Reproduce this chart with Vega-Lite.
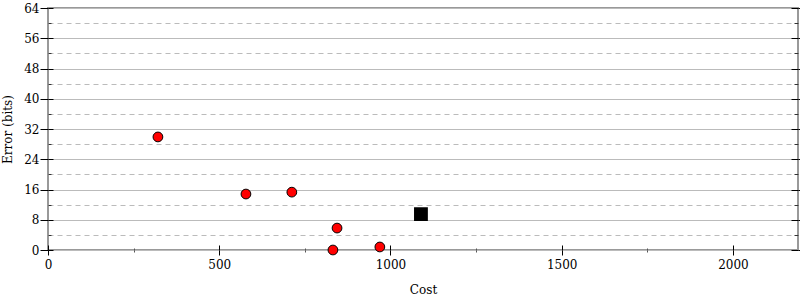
{
  "$schema": "https://vega.github.io/schema/vega-lite/v6.json",
  "width": 750,
  "height": 242,
  "autosize": {"type": "none"},
  "padding": {"left": 48, "top": 8, "right": 2, "bottom": 50},
  "background": "white",
  "config": {
    "font": "DejaVu Serif",
    "view": {"stroke": "#999", "strokeWidth": 2},
    "axis": {"labelFont": "DejaVu Serif", "titleFont": "DejaVu Serif", "labelFontSize": 12, "titleFontSize": 12, "titleFontWeight": "normal", "labelColor": "#000", "titleColor": "#000", "domain": false, "tickColor": "#000", "labelFlush": false, "format": "d"}
  },
  "datasets": {
    "pts": [
      {"cost": 321, "err": 29.9, "kind": "other"},
      {"cost": 578, "err": 14.8, "kind": "other"},
      {"cost": 712, "err": 15.3, "kind": "other"},
      {"cost": 844, "err": 5.8, "kind": "other"},
      {"cost": 832, "err": 0.0, "kind": "other"},
      {"cost": 969, "err": 0.8, "kind": "other"},
      {"cost": 1089, "err": 9.5, "kind": "best"}
    ]
  },
  "data": {"name": "pts"},
  "resolve": {"axis": {"x": "independent", "y": "independent"}},
  "layer": [
    {
      "mark": {"type": "point", "opacity": 0},
      "encoding": {
        "x": {"field": "cost", "type": "quantitative", "scale": {"domain": [0, 2190], "nice": false},
          "axis": {"orient": "bottom", "values": [250, 750, 1250, 1750], "labels": false, "grid": false, "tickSize": 2, "tickColor": "#555", "title": null}},
        "y": {"field": "err", "type": "quantitative", "scale": {"domain": [0, 64], "nice": false},
          "axis": {"orient": "left", "values": [4, 12, 20, 28, 36, 44, 52, 60], "labels": false, "grid": true, "gridDash": [5, 4], "gridColor": "#bbb", "gridOpacity": 1, "tickSize": -3, "tickColor": "#333", "title": null}}
      }
    },
    {
      "mark": {"type": "point", "opacity": 0},
      "encoding": {
        "x": {"field": "cost", "type": "quantitative", "scale": {"domain": [0, 2190], "nice": false},
          "axis": {"orient": "bottom", "values": [250, 750, 1250, 1750], "labels": false, "grid": false, "tickSize": -2, "tickColor": "#555", "title": null}},
        "y": {"field": "err", "type": "quantitative", "scale": {"domain": [0, 64], "nice": false},
          "axis": {"orient": "right", "values": [4, 12, 20, 28, 36, 44, 52, 60], "labels": false, "grid": false, "tickSize": -4, "tickColor": "#333", "title": null}}
      }
    },
    {
      "mark": {"type": "point", "opacity": 0},
      "encoding": {
        "x": {"field": "cost", "type": "quantitative", "scale": {"domain": [0, 2190], "nice": false},
          "axis": {"orient": "bottom", "values": [0, 500, 1000, 1500, 2000], "labels": false, "grid": false, "tickSize": -5, "title": null}},
        "y": {"field": "err", "type": "quantitative", "scale": {"domain": [0, 64], "nice": false},
          "axis": {"orient": "left", "values": [0, 8, 16, 24, 32, 40, 48, 56, 64], "labels": false, "grid": false, "tickSize": -5, "title": null}}
      }
    },
    {
      "mark": {"type": "point", "opacity": 0},
      "encoding": {
        "x": {"field": "cost", "type": "quantitative", "scale": {"domain": [0, 2190], "nice": false},
          "axis": {"orient": "top", "labels": false, "ticks": false, "grid": false, "title": null}},
        "y": {"field": "err", "type": "quantitative", "scale": {"domain": [0, 64], "nice": false},
          "axis": {"orient": "right", "values": [0, 8, 16, 24, 32, 40, 48, 56, 64], "labels": false, "grid": false, "tickSize": 3, "title": null}}
      }
    },
    {
      "mark": {"type": "point", "opacity": 0},
      "encoding": {
        "x": {"field": "cost", "type": "quantitative", "scale": {"domain": [0, 2190], "nice": false},
          "axis": {"orient": "top", "labels": false, "ticks": false, "grid": false, "title": null}},
        "y": {"field": "err", "type": "quantitative", "scale": {"domain": [0, 64], "nice": false},
          "axis": {"orient": "right", "values": [0, 8, 16, 24, 32, 40, 48, 56, 64], "labels": false, "grid": false, "tickSize": -7, "title": null}}
      }
    },
    {
      "mark": {"type": "point", "filled": true, "shape": "circle", "size": 95, "fill": "#ff0000", "stroke": "#000", "strokeWidth": 1, "opacity": 1},
      "transform": [{"filter": "datum.kind === 'other'"}],
      "encoding": {
        "x": {"field": "cost", "type": "quantitative", "scale": {"domain": [0, 2190], "nice": false},
          "axis": {"orient": "bottom", "values": [0, 500, 1000, 1500, 2000], "grid": false, "tickSize": 5, "title": "Cost", "titlePadding": 14, "labelPadding": 4}},
        "y": {"field": "err", "type": "quantitative", "scale": {"domain": [0, 64], "nice": false},
          "axis": {"orient": "left", "values": [0, 8, 16, 24, 32, 40, 48, 56, 64], "grid": true, "gridColor": "#bbb", "gridOpacity": 1, "tickSize": 8, "title": "Error (bits)", "titlePadding": 9, "labelPadding": 1}}
      }
    },
    {
      "mark": {"type": "point", "filled": true, "shape": "square", "size": 140, "fill": "#000", "stroke": "#000", "opacity": 1},
      "transform": [{"filter": "datum.kind === 'best'"}],
      "encoding": {
        "x": {"field": "cost", "type": "quantitative", "scale": {"domain": [0, 2190], "nice": false}, "axis": null},
        "y": {"field": "err", "type": "quantitative", "scale": {"domain": [0, 64], "nice": false}, "axis": null}
      }
    }
  ]
}
